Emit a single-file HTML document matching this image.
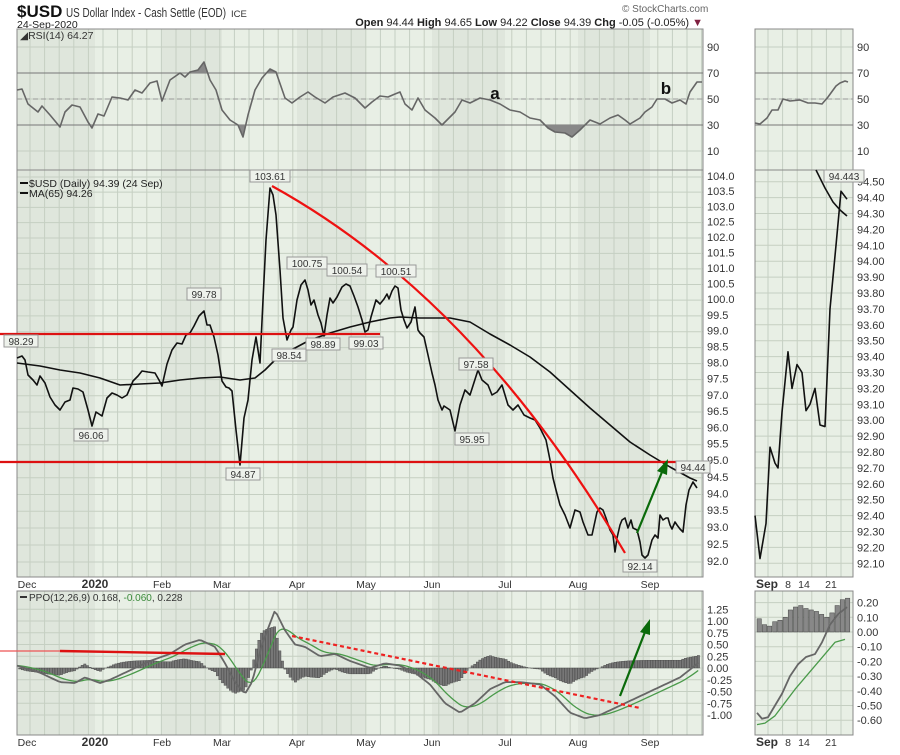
<!DOCTYPE html>
<html><head><meta charset="utf-8"><style>
body{margin:0;background:#fff;width:900px;height:750px;overflow:hidden;font-family:"Liberation Sans",sans-serif}
svg text{font-family:"Liberation Sans",sans-serif}
</style></head><body>
<svg id="s" width="900" height="750" xmlns="http://www.w3.org/2000/svg"></svg>
<script>
const S=document.getElementById('s');let h='';
const L=17,R=703,RL=755,RR=853;
function P(v){return 177+3140*Math.log(104/v);}
function panel(x0,y0,x1,y1,vlines,hlines){
 h+=`<rect x="${x0}" y="${y0}" width="${x1-x0}" height="${y1-y0}" fill="#e8efe5" stroke="#888" stroke-width="1"/>`;
 const b=[[17,95],[162,222],[297,366],[432,505],[578,650]];
 if(x1-x0>300) b.forEach(([a,c])=>h+=`<rect x="${a}" y="${y0}" width="${c-a}" height="${y1-y0}" fill="#dfe6dc"/>`);
 for(let x=x0+13;x<x1;x+=14.6)h+=`<line x1="${x}" y1="${y0}" x2="${x}" y2="${y1}" stroke="#c5cfc2" stroke-width="1"/>`;
 hlines.forEach(y=>h+=`<line x1="${x0}" y1="${y}" x2="${x1}" y2="${y}" stroke="#c5cfc2"/>`);
 h+=`<rect x="${x0}" y="${y0}" width="${x1-x0}" height="${y1-y0}" fill="none" stroke="#888"/>`;
}
function pl(pts,c,w,extra=''){h+=`<polyline points="${pts.map(p=>p.join(',')).join(' ')}" fill="none" stroke="${c}" stroke-width="${w}" stroke-linejoin="round" ${extra}/>`;}
function t(x,y,s,sz=11,a='start',c='#222',wt='normal'){h+=`<text x="${x}" y="${y}" font-size="${sz}" text-anchor="${a}" fill="${c}" font-weight="${wt}">${s}</text>`;}
t(17,17,'$USD',17,'start','#111','bold');
h+=`<text x="66" y="17" font-size="12.5" fill="#333" textLength="160" lengthAdjust="spacingAndGlyphs">US Dollar Index - Cash Settle (EOD)</text>`;
t(231,17,'ICE',9.5,'start','#333');
t(17,28,'24-Sep-2020',10.5,'start','#222');
t(622,12,'© StockCharts.com',10,'start','#666');
h+=`<text x="703" y="26" font-size="11" text-anchor="end" fill="#222"><tspan font-weight="bold">Open</tspan> 94.44  <tspan font-weight="bold">High</tspan> 94.65  <tspan font-weight="bold">Low</tspan> 94.22  <tspan font-weight="bold">Close</tspan> 94.39  <tspan font-weight="bold">Chg</tspan> -0.05 (-0.05%) <tspan fill="#802040">▼</tspan></text>`;
const rsiH=[47,73,99,125,151];
panel(L,29,R,170,[],rsiH);panel(RL,29,RR,170,[],rsiH);
[[73,'#777','none'],[99,'#999','5,3'],[125,'#777','none']].forEach(([y,c,d])=>{h+=`<line x1="${L}" y1="${y}" x2="${R}" y2="${y}" stroke="${c}" stroke-dasharray="${d}"/><line x1="${RL}" y1="${y}" x2="${RR}" y2="${y}" stroke="${c}" stroke-dasharray="${d}"/>`;});
['90','70','50','30','10'].forEach((s,i)=>{t(707,rsiH[i]+4,s,11,'start','#333');t(857,rsiH[i]+4,s,11,'start','#333');});
const rsi=[[17,90],[22,89],[28,104],[38,112],[42,106],[50,115],[60,127],[65,112],[72,105],[80,107],[88,122],[92,128],[98,114],[104,116],[112,97],[120,98],[128,100],[135,90],[142,93],[150,83],[157,81],[162,101],[170,80],[180,73],[185,77],[190,72],[198,70],[204,62],[210,80],[216,90],[222,110],[230,120],[238,125],[243,137],[248,115],[255,90],[262,78],[270,69],[276,72],[285,98],[292,103],[300,97],[308,92],[315,97],[325,103],[333,97],[345,93],[355,98],[365,108],[372,102],[380,96],[388,97],[395,94],[400,92],[405,104],[412,110],[418,98],[425,110],[435,118],[442,125],[455,112],[462,100],[470,103],[480,98],[490,100],[500,104],[510,110],[520,112],[530,118],[540,120],[548,128],[555,132],[565,133],[572,137],[580,130],[590,120],[600,124],[610,118],[618,115],[625,120],[630,124],[640,118],[645,112],[652,107],[657,99],[665,99],[672,103],[680,100],[686,104],[690,92],[697,82],[702,82]];
h+=`<polygon points="190,73 198,70 204,62 207,73" fill="#888"/><polygon points="266,73 270,69 276,72 277,73" fill="#888"/><polygon points="238,125 243,137 246,125" fill="#888"/><polygon points="545,125 548,128 555,132 565,133 572,137 580,130 585,125" fill="#888"/>`;
pl(rsi,'#666',1.6);
pl([[755,123],[760,124],[767,118],[772,110],[778,110],[783,99],[790,101],[800,100],[808,103],[815,103],[822,104],[828,97],[836,86],[840,83],[845,81],[848,82]],'#666',1.6);
t(20,39,'◢RSI(14) 64.27',10.5,'start','#333');
t(495,99,'a',17,'middle','#111','bold');t(666,94,'b',17,'middle','#111','bold');
const priceH=[];for(let v=104;v>=92;v-=0.5)priceH.push(P(v));
panel(L,170,R,577,[],priceH);
const rH=[];for(let v=94.5;v>=92.1;v-=0.1)rH.push(452-(v-92.8)*159);
panel(RL,170,RR,577,[],rH);
priceH.forEach((y,i)=>t(707,y+3,(104-i*0.5).toFixed(1),11,'start','#333'));
rH.forEach((y,i)=>t(857,y+4,(94.5-i*0.1).toFixed(2),11,'start','#333'));
const ma=[[17,363],[40,366],[60,370],[80,373],[100,378],[120,385],[140,384],[160,383],[180,380],[200,378],[220,377],[240,380],[255,378],[265,370],[280,355],[295,348],[310,340],[330,333],[350,327],[370,322],[390,318],[400,317],[420,318],[450,318],[470,322],[490,334],[510,345],[530,357],[550,372],[570,390],[590,408],[610,425],[630,442],[650,455],[670,467],[690,478],[697,481]];
pl(ma,'#111',1.6);
const pr=[[17,358],[22,356],[25,360],[28,375],[33,380],[37,385],[40,376],[45,383],[50,397],[55,405],[60,410],[65,402],[70,400],[73,388],[78,389],[83,392],[88,410],[92,426],[96,412],[99,414],[102,416],[107,398],[112,393],[117,395],[122,398],[127,395],[133,381],[138,376],[142,371],[148,372],[155,373],[159,380],[162,386],[167,364],[172,350],[177,343],[182,344],[186,335],[190,333],[194,326],[199,316],[204,311],[207,325],[210,325],[214,337],[218,355],[222,381],[226,387],[229,388],[232,391],[236,430],[240,465],[244,418],[248,400],[252,360],[256,337],[260,363],[263,300],[266,240],[270,188],[273,195],[276,215],[280,270],[283,318],[287,340],[291,330],[293,327],[297,300],[301,285],[305,280],[308,290],[311,305],[314,300],[318,315],[321,323],[324,336],[327,315],[330,298],[333,303],[337,297],[342,287],[346,284],[350,286],[354,296],[358,307],[362,320],[365,332],[368,330],[371,317],[376,300],[380,304],[384,299],[387,294],[389,299],[392,291],[395,286],[398,288],[401,310],[404,320],[407,328],[411,322],[415,307],[418,330],[420,333],[424,337],[428,355],[432,373],[435,385],[438,400],[442,410],[444,406],[450,410],[455,431],[460,405],[465,390],[470,395],[478,370],[482,380],[488,385],[492,395],[497,392],[502,385],[508,405],[513,410],[518,405],[524,415],[530,418],[535,420],[540,428],[546,440],[550,460],[553,478],[556,490],[560,505],[565,515],[570,528],[575,510],[580,512],[583,522],[588,535],[592,535],[597,512],[600,508],[603,510],[606,518],[610,530],[613,535],[615,552],[617,538],[620,525],[622,520],[625,518],[628,528],[631,520],[633,528],[637,530],[640,542],[642,555],[645,558],[648,555],[652,540],[655,535],[658,538],[660,515],[663,520],[666,518],[668,518],[670,525],[672,529],[675,522],[677,525],[680,529],[683,532],[686,505],[689,490],[693,482],[695,485],[697,488]];
pl(pr,'#111',1.6);
h+=`<line x1="0" y1="334" x2="380" y2="334" stroke="#d11" stroke-width="2.2"/><line x1="0" y1="462" x2="707" y2="462" stroke="#d11" stroke-width="2.2"/>`;
h+=`<path d="M272,186 Q475,298 625,553" fill="none" stroke="#e11" stroke-width="2.2"/>`;
h+=`<line x1="637" y1="533" x2="662" y2="472" stroke="#0a6a0a" stroke-width="2.2"/><polygon points="668,459 657,471 667,475" fill="#0a6a0a"/>`;
const rp=[[755,92.4],[760,92.13],[766,92.35],[770,92.83],[775,92.73],[778,92.7],[782,93.05],[788,93.43],[792,93.2],[797,93.35],[802,93.3],[806,93.06],[810,93.1],[815,93.2],[820,92.97],[825,92.96],[830,93.7],[836,94.1],[841,94.44],[847,94.39]].map(([x,v])=>[x,452-(v-92.8)*159]);
pl(rp,'#111',1.6);
pl([[816,170],[825,188],[833,202],[840,210],[847,216]],'#111',1.6);
function lab(x,y,s){const w=s.length*6+4;h+=`<rect x="${x-w/2}" y="${y-9}" width="${w}" height="12" fill="#eef2ec" stroke="#999"/>`;t(x,y+1,s,10,'middle','#333');}
lab(270,179,'103.61');lab(307,266,'100.75');lab(347,273,'100.54');lab(396,274,'100.51');lab(204,297,'99.78');lab(21,344,'98.29');lab(91,438,'96.06');lab(243,477,'94.87');lab(289,358,'98.54');lab(323,347,'98.89');lab(366,346,'99.03');lab(476,367,'97.58');lab(472,442,'95.95');lab(640,569,'92.14');lab(693,470,'94.44');lab(844,179,'94.443');
h+=`<line x1="20" y1="183" x2="28" y2="183" stroke="#111" stroke-width="2"/><line x1="20" y1="193" x2="28" y2="193" stroke="#111" stroke-width="2"/>`;
t(29,187,'$USD (Daily) 94.39 (24 Sep)',10.5,'start','#222');t(29,197,'MA(65) 94.26',10.5,'start','#222');
function xax(y){[['Dec',27],['2020',95,1],['Feb',162],['Mar',222],['Apr',297],['May',366],['Jun',432],['Jul',505],['Aug',578],['Sep',650]].forEach(([s,x,b])=>t(x,y,s,b?12:10.5,'middle','#333',b?'bold':'normal'));
 t(767,y,'Sep',12,'middle','#333','bold');t(788,y,'8',10.5,'middle','#333');t(804,y,'14',10.5,'middle','#333');t(831,y,'21',10.5,'middle','#333');}
xax(588);xax(746);
const PY=v=>668-v*47;
const ppoH=[1.25,1,0.75,0.5,0.25,0,-0.25,-0.5,-0.75,-1];
panel(L,591,R,735,[],ppoH.map(PY));
const RPY=v=>632-v*147;
const rppoH=[0.2,0.1,0,-0.1,-0.2,-0.3,-0.4,-0.5,-0.6];
panel(RL,591,RR,735,[],rppoH.map(RPY));
ppoH.forEach(v=>t(707,PY(v)+4,v.toFixed(2),11,'start','#333'));
rppoH.forEach(v=>t(857,RPY(v)+4,v.toFixed(2),11,'start','#333'));
function interp(pts,x){for(let i=1;i<pts.length;i++)if(x<=pts[i][0]){const[a,b]=pts[i-1],[c,d]=pts[i];return b+(d-b)*(x-a)/(c-a);}return pts[pts.length-1][1];}
const ppoK=[[17,0.05],[40,-0.1],[60,-0.3],[75,-0.32],[85,-0.2],[100,-0.32],[110,-0.25],[130,-0.05],[150,0.15],[170,0.3],[185,0.5],[200,0.6],[215,0.45],[225,0.1],[235,-0.3],[245,-0.55],[252,-0.3],[262,0.5],[275,1.23],[285,0.8],[295,0.5],[305,0.45],[320,0.25],[335,0.3],[350,0.15],[370,0.0],[385,0.1],[400,0.05],[415,-0.1],[430,-0.35],[445,-0.75],[460,-0.95],[475,-0.75],[490,-0.45],[505,-0.3],[520,-0.3],[540,-0.35],[555,-0.6],[570,-0.95],[585,-1.07],[600,-1.0],[615,-0.85],[630,-0.7],[645,-0.55],[660,-0.4],[680,-0.2],[695,0.05],[700,0.15]];
const xs=[],pv=[],sg=[];let s=0.05;
for(let x=17;x<=700;x+=2.6){const v=interp(ppoK,x);s+= (v-s)*0.2;xs.push(x);pv.push(v);sg.push(s);}
xs.forEach((x,i)=>{const d=pv[i]-sg[i];const y0=PY(0),y1=PY(d*1.6);h+=`<rect x="${x-1}" y="${Math.min(y0,y1)}" width="2.4" height="${Math.abs(y1-y0)}" fill="#777" stroke="#444" stroke-width="0.4"/>`;});
pl(xs.map((x,i)=>[x,PY(sg[i])]),'#4a9a4a',1.3);
pl(xs.map((x,i)=>[x,PY(pv[i])]),'#666',1.8);
const rh=[0.09,0.05,0.04,0.07,0.08,0.1,0.15,0.17,0.18,0.16,0.15,0.14,0.12,0.1,0.13,0.18,0.22,0.23];
rh.forEach((v,i)=>{const x=757+i*5.2;h+=`<rect x="${x}" y="${RPY(v)}" width="4.4" height="${RPY(0)-RPY(v)}" fill="#888" stroke="#444" stroke-width="0.5"/>`;});
pl([[757,-0.55],[762,-0.59],[768,-0.58],[775,-0.5],[782,-0.42],[790,-0.3],[798,-0.22],[806,-0.17],[815,-0.15],[822,-0.07],[830,0.05],[838,0.12],[847,0.17]].map(([x,v])=>[x,RPY(v)]),'#666',1.8);
pl([[757,-0.63],[765,-0.62],[775,-0.57],[785,-0.48],[795,-0.39],[805,-0.31],[815,-0.23],[825,-0.15],[835,-0.07],[845,-0.05]].map(([x,v])=>[x,RPY(v)]),'#4a9a4a',1.3);
h+=`<line x1="20" y1="597" x2="27" y2="597" stroke="#333" stroke-width="2"/>`;
h+=`<text x="29" y="601" font-size="10" fill="#333">PPO(12,26,9) 0.168, <tspan fill="#3a8a3a">-0.060</tspan>, 0.228</text>`;
h+=`<line x1="0" y1="651" x2="60" y2="651" stroke="#e55" stroke-width="1.2"/><line x1="60" y1="651" x2="225" y2="654" stroke="#d11" stroke-width="2.4"/>`;
h+=`<line x1="292" y1="636" x2="640" y2="708" stroke="#e22" stroke-width="2.2" stroke-dasharray="4,3"/>`;
h+=`<line x1="620" y1="696" x2="645" y2="632" stroke="#0a6a0a" stroke-width="2.2"/><polygon points="650,619 640,632 650,635" fill="#0a6a0a"/>`;
S.innerHTML=h;
</script>
</body></html>
